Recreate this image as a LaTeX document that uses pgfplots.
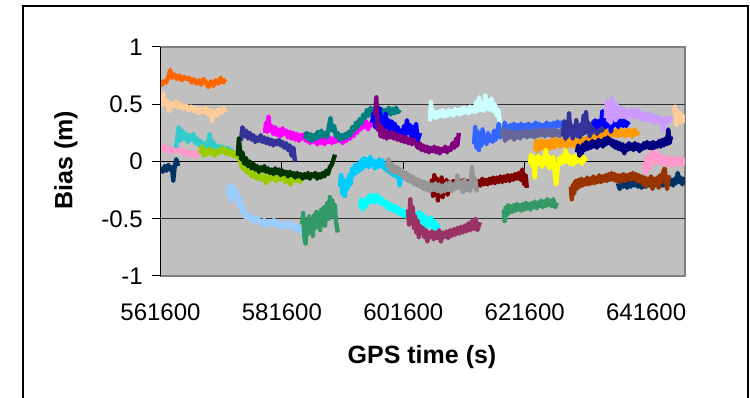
\documentclass[border=0pt]{standalone}
\usepackage{fontspec}
\setmainfont{Liberation Sans}
\usepackage{pgfplots}
\pgfplotsset{compat=1.18}
\definecolor{plotgray}{HTML}{C0C0C0}
\definecolor{axisgray}{HTML}{808080}
\definecolor{gridc}{HTML}{303030}
\definecolor{sOrange}{HTML}{FF6600}
\definecolor{sPeach}{HTML}{FFCC99}
\definecolor{sPink}{HTML}{FF99CC}
\definecolor{sNavyA}{HTML}{003366}
\definecolor{sTurq}{HTML}{33CCCC}
\definecolor{sYGreen}{HTML}{99CC00}
\definecolor{sLBlue}{HTML}{99CCFF}
\definecolor{sSea}{HTML}{339966}
\definecolor{sIndigo}{HTML}{333399}
\definecolor{sDGreen}{HTML}{003300}
\definecolor{sMagenta}{HTML}{FF00FF}
\definecolor{sTeal}{HTML}{008080}
\definecolor{sBlue}{HTML}{0000FF}
\definecolor{sPurple}{HTML}{800080}
\definecolor{sSky}{HTML}{00CCFF}
\definecolor{sCyan}{HTML}{00FFFF}
\definecolor{sGray}{HTML}{969696}
\definecolor{sPlum}{HTML}{993366}
\definecolor{sPaleCyan}{HTML}{CCFFFF}
\definecolor{sDRed}{HTML}{800000}
\definecolor{sRoyal}{HTML}{3366FF}
\definecolor{sSlate}{HTML}{666699}
\definecolor{sOrange2}{HTML}{FF9900}
\definecolor{sYellow}{HTML}{FFFF00}
\definecolor{sNavy}{HTML}{000080}
\definecolor{sLav}{HTML}{CC99FF}
\definecolor{sBrown}{HTML}{993300}
\begin{document}
\begin{tikzpicture}
\useasboundingbox (-160.5pt,-122pt) rectangle (589.5pt,276pt);
\draw[line width=2pt] (-137.5pt,-130pt) -- (-137.5pt,270pt) -- (587.5pt,270pt) -- (587.5pt,-130pt);
\begin{axis}[
  at={(0pt,0pt)}, anchor=south west,
  scale only axis, width=524.5pt, height=229pt,
  xmin=561600, xmax=648000, ymin=-1, ymax=1,
  scaled x ticks=false, scaled y ticks=false,
  xtick={561600,581600,601600,621600,641600},
  xticklabels={561600,581600,601600,621600,641600},
  ytick={-1,-0.5,0,0.5,1},
  yticklabels={-1,-0.5,0,0.5,1},
  tick style={draw=none},
  major tick length=0pt,
  tick label style={font=\fontsize{24}{28}\selectfont},
  xticklabel style={anchor=base, yshift=-44.7pt},
  yticklabel style={anchor=east, xshift=-14.2pt},
  axis line style={draw=axisgray, line width=1.2pt},
  axis background/.style={fill=plotgray},
  xlabel={GPS time (s)}, ylabel={Bias (m)},
  label style={font=\bfseries\fontsize{25}{30}\selectfont},
  xlabel style={at={(axis description cs:0.4986,-0.3537)}, anchor=center},
  ylabel style={at={(axis description cs:-0.1802,0.5066)}, anchor=center},
  every axis plot/.append style={line width=4.4pt, line join=round},
  no markers,
]
\draw[gridc, line width=1pt] (axis cs:561600,0.5) -- (axis cs:648000,0.5);
\draw[gridc, line width=1pt] (axis cs:561600,-0.5) -- (axis cs:648000,-0.5);
\draw[black, line width=1pt] (axis cs:561600,0) -- (axis cs:648000,0);
\draw[black, line width=1pt] (axis cs:581600,0) -- ++(0pt,-8pt);
\draw[black, line width=1pt] (axis cs:601600,0) -- ++(0pt,-8pt);
\draw[black, line width=1pt] (axis cs:621600,0) -- ++(0pt,-8pt);
\draw[black, line width=1pt] (axis cs:641600,0) -- ++(0pt,-8pt);
% pink 1
\addplot[draw=sPink] coordinates {(561700,0.10)(562100,0.14)(562500,0.09)(562900,0.12)(563300,0.08)(563700,0.11)(564100,0.09)(564500,0.13)(564900,0.08)(565300,0.10)(565700,0.06)(566100,0.09)(566500,0.05)(566900,0.08)(567300,0.04)(567700,0.08)(568100,0.06)};
% orange 1
\addplot[draw=sOrange] coordinates {(561700,0.66)(562100,0.70)(562500,0.69)(562900,0.74)(563200,0.80)(563500,0.73)(563900,0.76)(564300,0.72)(564700,0.75)(565100,0.71)(565500,0.74)(565900,0.72)(566300,0.73)(566700,0.69)(567100,0.72)(567500,0.68)(567900,0.71)(568300,0.67)(568700,0.72)(569100,0.69)(569500,0.65)(569900,0.70)(570300,0.66)(570700,0.71)(571100,0.68)(571500,0.73)(571900,0.69)(572300,0.72)};
% peach 1
\addplot[draw=sPeach] coordinates {(561700,0.47)(562000,0.60)(562300,0.50)(562700,0.53)(563000,0.44)(563400,0.51)(563800,0.48)(564200,0.52)(564600,0.47)(565000,0.50)(565400,0.46)(565800,0.49)(566200,0.45)(566600,0.48)(567000,0.44)(567400,0.47)(567800,0.42)(568200,0.46)(568600,0.43)(569000,0.47)(569400,0.41)(569800,0.45)(570100,0.35)(570400,0.44)(570800,0.40)(571200,0.46)(571600,0.42)(572000,0.47)(572300,0.43)};
% navy A
\addplot[draw=sNavyA] coordinates {(561700,-0.05)(562000,-0.09)(562300,-0.04)(562600,-0.08)(562900,-0.03)(563200,-0.07)(563500,-0.05)(563700,-0.17)(563900,-0.06)(564200,0.02)(564500,-0.04)};
% turquoise
\addplot[draw=sTurq] coordinates {(564150,0.12)(564400,0.22)(564600,0.30)(564900,0.18)(565200,0.27)(565500,0.20)(565800,0.24)(566100,0.17)(566400,0.23)(566700,0.19)(567000,0.24)(567300,0.16)(567600,0.20)(567900,0.14)(568200,0.18)(568500,0.13)(568800,0.16)(569100,0.12)(569400,0.15)(569700,0.24)(570000,0.13)(570300,0.17)(570700,0.11)(571100,0.14)(571500,0.10)(571900,0.13)(572300,0.09)(572700,0.12)(573100,0.09)(573500,0.11)};
% yellow-green
\addplot[draw=sYGreen] coordinates {(568100,0.07)(568400,0.13)(568700,0.05)(569000,0.10)(569300,0.06)(569600,0.11)(569900,0.07)(570200,0.10)(570500,0.05)(570800,0.09)(571100,0.07)(571400,0.11)(571700,0.08)(572000,0.12)(572300,0.07)(572600,0.10)(572900,0.06)(573200,0.09)(573500,0.05)(573800,0.08)(574100,0.04)(574400,0.06)(574700,0.00)(575000,-0.04)(575300,-0.07)(575600,-0.05)(575900,-0.10)(576200,-0.08)(576600,-0.13)(577000,-0.10)(577400,-0.15)(577800,-0.11)(578200,-0.16)(578600,-0.12)(579000,-0.19)(579400,-0.13)(579800,-0.16)(580200,-0.12)(580600,-0.17)(581000,-0.13)(581400,-0.16)(581800,-0.12)(582200,-0.18)(582600,-0.14)(583000,-0.20)(583400,-0.13)(583800,-0.17)(584200,-0.12)(584600,-0.18)(584900,-0.14)};
% light blue
\addplot[draw=sLBlue] coordinates {(572700,-0.30)(572900,-0.20)(573200,-0.34)(573500,-0.22)(573800,-0.30)(574100,-0.25)(574400,-0.38)(574700,-0.32)(575000,-0.44)(575300,-0.40)(575600,-0.49)(575900,-0.46)(576300,-0.51)(576700,-0.48)(577100,-0.53)(577500,-0.49)(577900,-0.52)(578300,-0.55)(578700,-0.51)(579100,-0.56)(579500,-0.52)(579900,-0.55)(580300,-0.51)(580700,-0.56)(581100,-0.53)(581500,-0.58)(581900,-0.54)(582300,-0.57)(582700,-0.53)(583100,-0.58)(583500,-0.55)(583900,-0.60)(584300,-0.56)(584700,-0.62)(585100,-0.58)};
% indigo 1
\addplot[draw=sIndigo] coordinates {(574850,0.18)(575100,0.30)(575400,0.22)(575700,0.27)(576000,0.20)(576300,0.25)(576600,0.19)(576900,0.23)(577200,0.17)(577500,0.21)(577800,0.18)(578100,0.23)(578400,0.17)(578700,0.21)(579000,0.16)(579300,0.20)(579600,0.15)(579900,0.19)(580200,0.14)(580500,0.18)(580800,0.15)(581100,0.19)(581400,0.14)(581700,0.17)(582000,0.12)(582300,0.16)(582600,0.10)(582900,0.14)(583200,0.05)(583500,0.12)(583750,0.00)};
% magenta
\addplot[draw=sMagenta] coordinates {(578800,0.25)(579000,0.34)(579200,0.26)(579400,0.39)(579600,0.27)(579900,0.31)(580200,0.24)(580500,0.30)(580800,0.23)(581100,0.28)(581400,0.22)(581700,0.29)(582000,0.24)(582300,0.27)(582600,0.21)(582900,0.26)(583200,0.20)(583500,0.25)(583800,0.19)(584100,0.24)(584400,0.18)(584700,0.23)(585000,0.20)(585300,0.24)(585600,0.18)(585900,0.22)(586200,0.16)(586500,0.21)(586800,0.17)(587100,0.20)(587400,0.15)(587700,0.19)(588000,0.16)(588300,0.21)(588600,0.15)(588900,0.19)(589200,0.17)(589500,0.21)(589800,0.16)(590100,0.20)(590400,0.17)(590700,0.22)(591000,0.18)(591300,0.21)(591600,0.16)(591900,0.21)(592200,0.18)(592500,0.22)(592800,0.20)(593100,0.26)(593400,0.22)(593700,0.29)(594000,0.25)(594300,0.33)(594600,0.28)(594900,0.36)(595200,0.30)(595500,0.35)(595800,0.28)(596100,0.33)(596450,0.30)};
% dark green
\addplot[draw=sDGreen] coordinates {(574350,0.05)(574500,0.20)(574700,0.10)(574900,0.02)(575100,0.08)(575400,-0.02)(575700,0.03)(576000,-0.04)(576300,0.00)(576600,-0.06)(576900,-0.02)(577200,-0.07)(577500,-0.04)(577800,-0.09)(578100,-0.05)(578400,-0.08)(578700,-0.04)(579000,-0.09)(579300,-0.06)(579600,-0.10)(579900,-0.07)(580200,-0.11)(580500,-0.06)(580800,-0.10)(581100,-0.07)(581400,-0.12)(581700,-0.08)(582000,-0.11)(582300,-0.09)(582600,-0.13)(582900,-0.09)(583200,-0.12)(583500,-0.10)(583800,-0.14)(584100,-0.10)(584400,-0.13)(584700,-0.11)(585000,-0.15)(585300,-0.11)(585600,-0.14)(585900,-0.10)(586200,-0.15)(586500,-0.11)(586800,-0.13)(587100,-0.10)(587400,-0.15)(587700,-0.11)(588000,-0.14)(588300,-0.10)(588600,-0.13)(588900,-0.08)(589200,-0.11)(589500,-0.05)(589800,-0.03)(590100,0.02)(590350,0.06)};
% sea green 1
\addplot[draw=sSea] coordinates {(584900,-0.55)(585100,-0.45)(585300,-0.66)(585500,-0.72)(585700,-0.52)(585900,-0.63)(586100,-0.48)(586300,-0.60)(586500,-0.50)(586700,-0.65)(586900,-0.47)(587100,-0.58)(587300,-0.44)(587500,-0.55)(587700,-0.46)(587900,-0.60)(588100,-0.42)(588300,-0.53)(588500,-0.40)(588700,-0.56)(588900,-0.43)(589100,-0.36)(589300,-0.50)(589500,-0.31)(589700,-0.45)(589900,-0.34)(590100,-0.48)(590300,-0.38)(590500,-0.52)(590800,-0.62)};
% teal
\addplot[draw=sTeal] coordinates {(585400,0.20)(585700,0.25)(586000,0.19)(586300,0.24)(586600,0.18)(586900,0.23)(587200,0.20)(587500,0.26)(587800,0.21)(588100,0.27)(588400,0.22)(588700,0.25)(589000,0.21)(589300,0.29)(589600,0.38)(589900,0.27)(590200,0.31)(590500,0.22)(590800,0.25)(591100,0.19)(591400,0.23)(591700,0.20)(592000,0.24)(592300,0.21)(592600,0.26)(592900,0.23)(593200,0.30)(593500,0.27)(593800,0.34)(594100,0.30)(594400,0.37)(594700,0.33)(595000,0.41)(595300,0.38)(595600,0.45)(595900,0.40)(596200,0.47)(596500,0.42)(596800,0.46)(597100,0.41)(597400,0.48)(597700,0.43)(598000,0.46)(598300,0.40)(598600,0.45)(598900,0.42)(599200,0.47)(599500,0.41)(599800,0.46)(600100,0.42)(600400,0.47)(600700,0.43)(601050,0.45)};
% sky blue
\addplot[draw=sSky] coordinates {(591150,-0.22)(591350,-0.12)(591550,-0.28)(591750,-0.16)(591950,-0.30)(592150,-0.18)(592400,-0.24)(592650,-0.12)(592900,-0.20)(593150,-0.06)(593400,-0.12)(593650,-0.03)(593900,-0.10)(594150,-0.02)(594400,-0.08)(594650,0.01)(594900,-0.06)(595150,0.03)(595400,-0.04)(595650,0.02)(595900,-0.05)(596150,0.04)(596400,-0.03)(596650,0.01)(596900,-0.06)(597150,0.00)(597400,-0.05)(597650,0.02)(597900,-0.04)(598150,0.01)(598400,-0.06)(598650,-0.02)(598900,-0.08)(599150,-0.03)(599400,-0.10)(599650,-0.05)(599900,-0.12)(600150,-0.07)(600400,-0.13)(600700,-0.08)(601000,-0.21)(601300,-0.10)(601850,-0.14)};
% cyan
\addplot[draw=sCyan] coordinates {(594450,-0.40)(594700,-0.33)(594950,-0.42)(595200,-0.35)(595450,-0.39)(595700,-0.31)(595950,-0.36)(596200,-0.29)(596450,-0.35)(596700,-0.30)(596950,-0.36)(597200,-0.29)(597450,-0.34)(597700,-0.31)(597950,-0.37)(598200,-0.33)(598450,-0.38)(598700,-0.35)(598950,-0.41)(599200,-0.37)(599450,-0.42)(599700,-0.38)(599950,-0.43)(600200,-0.39)(600450,-0.44)(600700,-0.40)(600950,-0.46)(601200,-0.42)(601450,-0.47)(601700,-0.43)(601950,-0.48)(602200,-0.44)(602450,-0.47)(602700,-0.43)(602950,-0.49)(603200,-0.45)(603450,-0.50)(603700,-0.46)(603950,-0.50)(604200,-0.44)(604450,-0.52)(604700,-0.46)(604950,-0.55)(605200,-0.48)(605450,-0.58)(605700,-0.50)(605950,-0.55)(606200,-0.49)(606450,-0.58)(606700,-0.52)(606950,-0.60)(607200,-0.55)(607450,-0.58)};
% blue 1
\addplot[draw=sBlue] coordinates {(596450,0.34)(596700,0.42)(596950,0.30)(597200,0.40)(597450,0.28)(597700,0.46)(597950,0.32)(598200,0.38)(598450,0.27)(598700,0.42)(598950,0.30)(599200,0.36)(599450,0.24)(599700,0.35)(599950,0.27)(600200,0.33)(600450,0.22)(600700,0.30)(600950,0.20)(601200,0.27)(601450,0.18)(601700,0.31)(601950,0.23)(602200,0.36)(602450,0.25)(602700,0.32)(602950,0.20)(603200,0.30)(603450,0.22)(603700,0.33)(603950,0.18)(604350,0.25)};
% purple
\addplot[draw=sPurple] coordinates {(596950,0.40)(597150,0.56)(597350,0.28)(597600,0.33)(597850,0.22)(598100,0.30)(598350,0.21)(598600,0.27)(598850,0.20)(599100,0.25)(599400,0.21)(599700,0.26)(600000,0.20)(600300,0.24)(600600,0.19)(600900,0.23)(601200,0.18)(601500,0.22)(601800,0.17)(602100,0.21)(602400,0.16)(602700,0.20)(603000,0.15)(603250,0.19)(603500,0.17)(604000,0.12)(604300,0.16)(604600,0.10)(604900,0.14)(605200,0.09)(605500,0.13)(605800,0.08)(606100,0.12)(606400,0.09)(606700,0.13)(607000,0.08)(607300,0.12)(607600,0.07)(607900,0.11)(608200,0.09)(608500,0.13)(608800,0.08)(609100,0.12)(609400,0.10)(609700,0.16)(610000,0.12)(610300,0.20)(610500,0.14)(610750,0.25)};
% dark red
\addplot[draw=sDRed] coordinates {(606300,-0.15)(606500,-0.30)(606700,-0.12)(606900,-0.26)(607100,-0.15)(607300,-0.34)(607500,-0.18)(607700,-0.28)(607900,-0.14)(608100,-0.31)(608300,-0.19)(608500,-0.25)(608700,-0.16)(608900,-0.29)(609200,-0.18)(609500,-0.24)(609800,-0.17)(610100,-0.22)(610400,-0.16)(610700,-0.21)(611000,-0.17)(611300,-0.22)(611600,-0.16)(611900,-0.21)(612200,-0.17)(612500,-0.22)(612800,-0.18)(613100,-0.21)(613400,-0.16)(613700,-0.22)(614000,-0.17)(614300,-0.21)(614600,-0.15)(614900,-0.20)(615200,-0.16)(615500,-0.20)(615800,-0.15)(616100,-0.19)(616400,-0.14)(616700,-0.19)(617000,-0.14)(617300,-0.18)(617600,-0.13)(617900,-0.18)(618200,-0.13)(618500,-0.17)(618800,-0.12)(619100,-0.17)(619400,-0.12)(619700,-0.16)(620000,-0.11)(620300,-0.15)(620600,-0.10)(620900,-0.16)(621200,-0.07)(621500,-0.20)(621750,-0.12)(621950,-0.23)};
% gray
\addplot[draw=sGray] coordinates {(598900,-0.05)(599150,0.02)(599400,-0.08)(599650,-0.02)(599900,-0.10)(600150,-0.04)(600400,-0.09)(600650,-0.05)(600900,-0.11)(601150,-0.07)(601400,-0.13)(601650,-0.09)(601900,-0.15)(602150,-0.10)(602400,-0.17)(602650,-0.12)(602900,-0.18)(603150,-0.13)(603400,-0.20)(603650,-0.15)(603900,-0.21)(604150,-0.16)(604400,-0.22)(604650,-0.17)(604900,-0.24)(605150,-0.18)(605400,-0.25)(605700,-0.19)(606000,-0.26)(606300,-0.20)(606600,-0.25)(606900,-0.19)(607200,-0.26)(607500,-0.20)(607800,-0.27)(608100,-0.21)(608400,-0.26)(608700,-0.19)(609000,-0.25)(609300,-0.18)(609600,-0.26)(609900,-0.20)(610200,-0.24)(610500,-0.12)(610800,-0.23)(611100,-0.18)(611400,-0.27)(611700,-0.16)(612000,-0.25)(612300,-0.19)(612600,-0.26)(612900,-0.05)(613200,-0.22)(613450,-0.15)(613700,-0.27)};
% plum
\addplot[draw=sPlum] coordinates {(602350,-0.42)(602550,-0.55)(602750,-0.33)(602950,-0.50)(603150,-0.40)(603350,-0.58)(603550,-0.48)(603750,-0.62)(603950,-0.52)(604150,-0.66)(604350,-0.56)(604550,-0.62)(604800,-0.58)(605050,-0.66)(605300,-0.60)(605550,-0.70)(605800,-0.62)(606050,-0.66)(606300,-0.61)(606600,-0.68)(606900,-0.62)(607200,-0.67)(607500,-0.60)(607800,-0.70)(608100,-0.62)(608400,-0.66)(608700,-0.61)(609000,-0.67)(609300,-0.60)(609600,-0.65)(609900,-0.59)(610200,-0.64)(610500,-0.58)(610800,-0.63)(611100,-0.57)(611400,-0.62)(611700,-0.56)(612000,-0.61)(612300,-0.54)(612600,-0.60)(612900,-0.52)(613200,-0.59)(613500,-0.50)(613800,-0.60)(614200,-0.53)};
% pale cyan
\addplot[draw=sPaleCyan] coordinates {(606000,0.35)(606150,0.52)(606350,0.40)(606600,0.44)(606850,0.38)(607100,0.43)(607350,0.39)(607600,0.44)(607850,0.40)(608100,0.45)(608350,0.39)(608600,0.43)(608850,0.40)(609100,0.45)(609350,0.41)(609600,0.44)(609850,0.40)(610100,0.46)(610350,0.42)(610600,0.45)(610850,0.41)(611100,0.46)(611350,0.42)(611600,0.47)(611850,0.43)(612100,0.46)(612350,0.42)(612600,0.48)(612850,0.44)(613100,0.47)(613350,0.43)(613600,0.52)(613850,0.44)(614100,0.56)(614350,0.45)(614600,0.50)(614850,0.44)(615100,0.58)(615350,0.46)(615600,0.53)(615850,0.45)(616100,0.55)(616400,0.44)(616700,0.50)(617000,0.40)(617250,0.45)(617500,0.33)};
% royal blue
\addplot[draw=sRoyal] coordinates {(613250,0.15)(613450,0.30)(613650,0.12)(613850,0.26)(614050,0.10)(614250,0.24)(614450,0.14)(614650,0.28)(614850,0.17)(615050,0.22)(615300,0.15)(615550,0.25)(615800,0.18)(616050,0.22)(616300,0.17)(616550,0.27)(616800,0.19)(617050,0.24)(617300,0.33)(617550,0.21)(617800,0.26)(618050,0.22)(618300,0.34)(618550,0.27)(618800,0.31)(619050,0.26)(619300,0.32)(619550,0.27)(619800,0.33)(620100,0.28)(620400,0.32)(620700,0.27)(621000,0.33)(621300,0.28)(621600,0.32)(621900,0.27)(622200,0.33)(622500,0.28)(622800,0.32)(623100,0.29)(623400,0.34)(623700,0.29)(624000,0.33)(624300,0.28)(624600,0.32)(624900,0.29)(625200,0.34)(625500,0.30)(625800,0.33)(626100,0.29)(626400,0.34)(626700,0.30)(627000,0.35)(627300,0.31)(627600,0.34)(627900,0.30)(628200,0.33)};
% slate
\addplot[draw=sSlate] coordinates {(617850,0.22)(618100,0.28)(618350,0.18)(618600,0.26)(618850,0.20)(619100,0.27)(619350,0.21)(619600,0.25)(619850,0.19)(620100,0.26)(620350,0.21)(620600,0.25)(620850,0.20)(621100,0.27)(621350,0.22)(621650,0.26)(621950,0.21)(622250,0.27)(622550,0.22)(622850,0.26)(623150,0.21)(623450,0.27)(623750,0.22)(624050,0.28)(624350,0.23)(624650,0.27)(624950,0.22)(625250,0.28)(625550,0.23)(625850,0.27)(626150,0.22)(626450,0.28)(626750,0.23)(627050,0.27)(627350,0.22)(627650,0.28)(627950,0.23)(628250,0.27)(628550,0.24)};
% sea green 2
\addplot[draw=sSea] coordinates {(618150,-0.42)(618300,-0.52)(618450,-0.40)(618650,-0.47)(618850,-0.38)(619050,-0.45)(619300,-0.39)(619550,-0.44)(619800,-0.38)(620050,-0.43)(620300,-0.37)(620550,-0.42)(620800,-0.38)(621050,-0.43)(621300,-0.37)(621550,-0.42)(621800,-0.36)(622050,-0.41)(622300,-0.37)(622550,-0.42)(622800,-0.36)(623050,-0.40)(623300,-0.35)(623550,-0.41)(623800,-0.36)(624050,-0.39)(624300,-0.34)(624550,-0.40)(624800,-0.35)(625050,-0.39)(625300,-0.33)(625550,-0.38)(625800,-0.34)(626050,-0.39)(626300,-0.33)(626600,-0.40)(626900,-0.36)};
% orange 2
\addplot[draw=sOrange2] coordinates {(623300,0.10)(623500,0.18)(623700,0.09)(623900,0.17)(624100,0.11)(624300,0.19)(624500,0.12)(624700,0.16)(624900,0.10)(625100,0.18)(625300,0.13)(625500,0.17)(625700,0.11)(625900,0.19)(626100,0.13)(626300,0.17)(626500,0.12)(626700,0.20)(626900,0.14)(627100,0.18)(627400,0.13)(627700,0.19)(628000,0.14)(628300,0.18)(628600,0.13)(628900,0.19)(629200,0.14)(629500,0.18)(629800,0.13)(630100,0.19)(630400,0.15)(630700,0.18)(631000,0.14)(631300,0.20)(631600,0.15)(631900,0.21)(632200,0.17)(632500,0.22)(632800,0.17)(633100,0.23)(633400,0.20)(633700,0.26)(634000,0.21)(634300,0.27)(634600,0.22)(634900,0.28)(635200,0.23)(635500,0.27)(635800,0.22)(636100,0.28)(636400,0.23)(636700,0.27)(637000,0.22)(637300,0.28)(637600,0.23)(637900,0.27)(638200,0.22)(638500,0.28)(638800,0.23)(639100,0.27)(639400,0.22)(639700,0.28)(640050,0.24)(640400,0.26)};
% yellow
\addplot[draw=sYellow] coordinates {(622450,-0.02)(622650,0.06)(622850,-0.04)(623050,0.04)(623250,-0.14)(623450,0.02)(623650,-0.03)(623850,0.05)(624050,-0.02)(624250,0.03)(624450,-0.05)(624650,0.04)(624850,-0.01)(625050,0.10)(625250,-0.03)(625450,0.05)(625650,-0.06)(625850,0.03)(626050,-0.02)(626300,0.04)(626550,-0.10)(626800,-0.20)(627050,-0.04)(627300,0.03)(627550,-0.02)(627800,0.05)(628050,-0.01)(628300,0.10)(628550,0.00)(628800,0.06)(629050,-0.02)(629300,0.04)(629550,-0.03)(629800,0.05)(630050,-0.01)(630300,0.06)(630550,0.00)(630800,0.05)(631050,-0.02)(631300,0.04)(631700,0.00)};
% indigo 2
\addplot[draw=sIndigo] coordinates {(627900,0.22)(628100,0.35)(628300,0.20)(628500,0.30)(628700,0.22)(628900,0.42)(629100,0.24)(629300,0.32)(629500,0.20)(629700,0.30)(629900,0.23)(630100,0.36)(630300,0.22)(630500,0.29)(630700,0.21)(630900,0.33)(631100,0.24)(631300,0.40)(631500,0.25)(631700,0.43)(631900,0.27)(632100,0.34)(632300,0.22)(632500,0.31)(632700,0.25)(632900,0.35)(633100,0.27)(633300,0.32)(633500,0.24)(633700,0.30)(633900,0.26)(634100,0.33)(634350,0.27)(634650,0.31)};
% navy
\addplot[draw=sNavy] coordinates {(630200,0.08)(630400,0.14)(630600,0.05)(630800,0.12)(631000,0.07)(631250,0.15)(631500,0.10)(631750,0.17)(632000,0.11)(632250,0.16)(632500,0.12)(632750,0.18)(633000,0.13)(633250,0.17)(633500,0.12)(633750,0.19)(634000,0.14)(634250,0.18)(634500,0.13)(634750,0.20)(635000,0.15)(635250,0.21)(635500,0.16)(635750,0.19)(636000,0.14)(636250,0.18)(636500,0.12)(636750,0.17)(637000,0.11)(637250,0.16)(637500,0.10)(637750,0.15)(638000,0.07)(638250,0.14)(638500,0.10)(638750,0.16)(639000,0.11)(639250,0.15)(639500,0.10)(639750,0.16)(640000,0.11)(640250,0.15)(640500,0.09)(640750,0.14)(641000,0.11)(641250,0.16)(641500,0.12)(641750,0.17)(642000,0.12)(642250,0.16)(642500,0.11)(642750,0.17)(643000,0.12)(643250,0.16)(643500,0.13)(643750,0.18)(644000,0.13)(644250,0.19)(644500,0.14)(644750,0.20)(645000,0.15)(645250,0.28)(645450,0.16)(645700,0.22)};
% blue 2
\addplot[draw=sBlue] coordinates {(633000,0.31)(633200,0.36)(633400,0.30)(633600,0.35)(633800,0.31)(634000,0.36)(634200,0.33)(634400,0.44)(634600,0.32)(634800,0.38)(635000,0.30)(635200,0.42)(635400,0.33)(635600,0.37)(635800,0.26)(636000,0.35)(636200,0.31)(636400,0.38)(636600,0.32)(636800,0.36)(637000,0.30)(637200,0.37)(637400,0.32)(637600,0.35)(637800,0.31)(638000,0.36)(638300,0.31)(638500,0.34)(638750,0.32)};
% lavender
\addplot[draw=sLav] coordinates {(634950,0.38)(635150,0.52)(635350,0.36)(635550,0.46)(635750,0.34)(635950,0.55)(636150,0.38)(636350,0.48)(636550,0.36)(636750,0.50)(636950,0.38)(637150,0.45)(637350,0.39)(637600,0.47)(637850,0.40)(638100,0.45)(638350,0.38)(638600,0.44)(638850,0.39)(639100,0.46)(639350,0.40)(639600,0.44)(639850,0.38)(640100,0.45)(640350,0.39)(640600,0.43)(640850,0.37)(641100,0.42)(641350,0.36)(641600,0.41)(641850,0.36)(642100,0.42)(642350,0.35)(642600,0.40)(642850,0.34)(643100,0.40)(643350,0.35)(643600,0.39)(643850,0.34)(644100,0.38)(644350,0.27)(644600,0.37)(644850,0.33)(645100,0.38)(645400,0.35)(645700,0.39)};
% navy A second
\addplot[draw=sNavyA] coordinates {(636950,-0.19)(637250,-0.24)(637550,-0.18)(637850,-0.22)(638150,-0.17)(638450,-0.23)(638750,-0.18)(639050,-0.22)(639350,-0.17)(639650,-0.21)(639950,-0.16)(640250,-0.22)(640550,-0.17)(640850,-0.23)(641150,-0.18)(641450,-0.22)(641750,-0.17)(642050,-0.21)(642350,-0.16)(642650,-0.22)(642950,-0.17)(643250,-0.21)(643550,-0.16)(643850,-0.22)(644150,-0.17)(644450,-0.21)(644750,-0.16)(645050,-0.20)(645300,-0.15)(645550,-0.20)(645800,-0.16)(646050,-0.21)(646300,-0.15)(646550,-0.19)(646800,-0.10)(647050,-0.18)(647300,-0.14)(647550,-0.20)(647800,-0.15)(648000,-0.18)};
% brown
\addplot[draw=sBrown] coordinates {(629200,-0.22)(629350,-0.33)(629550,-0.20)(629750,-0.28)(629950,-0.17)(630150,-0.24)(630400,-0.16)(630650,-0.22)(630900,-0.15)(631150,-0.21)(631400,-0.16)(631650,-0.20)(631900,-0.14)(632150,-0.20)(632400,-0.15)(632650,-0.19)(632900,-0.13)(633150,-0.19)(633400,-0.14)(633650,-0.18)(633900,-0.12)(634150,-0.18)(634400,-0.13)(634650,-0.17)(634900,-0.12)(635150,-0.17)(635400,-0.11)(635650,-0.16)(635900,-0.10)(636150,-0.16)(636400,-0.11)(636650,-0.17)(636900,-0.12)(637150,-0.18)(637400,-0.12)(637650,-0.17)(637900,-0.11)(638150,-0.17)(638400,-0.12)(638650,-0.16)(638900,-0.11)(639150,-0.16)(639400,-0.10)(639650,-0.15)(639900,-0.11)(640150,-0.17)(640400,-0.12)(640650,-0.18)(640900,-0.13)(641150,-0.20)(641400,-0.14)(641650,-0.22)(641900,-0.15)(642150,-0.19)(642400,-0.13)(642650,-0.24)(642900,-0.15)(643150,-0.20)(643400,-0.14)(643650,-0.23)(643900,-0.12)(644150,-0.18)(644400,-0.10)(644650,-0.06)(644850,-0.15)(645050,-0.24)(645350,-0.12)};
% pink 2
\addplot[draw=sPink] coordinates {(641250,-0.02)(641450,-0.10)(641650,0.04)(641850,-0.08)(642050,0.02)(642250,-0.06)(642450,0.08)(642650,-0.02)(642850,0.05)(643050,-0.01)(643250,0.09)(643450,0.00)(643650,0.06)(643850,-0.02)(644050,0.05)(644250,-0.01)(644450,0.04)(644650,-0.03)(644850,0.03)(645050,-0.02)(645250,0.04)(645450,-0.03)(645650,0.02)(645850,-0.04)(646050,0.03)(646250,-0.02)(646450,0.02)(646650,-0.03)(646850,0.03)(647050,-0.02)(647250,0.01)(647450,-0.03)(647650,0.02)(647850,-0.02)(648000,0.00)};
% peach 2
\addplot[draw=sPeach] coordinates {(646150,0.42)(646350,0.48)(646550,0.32)(646750,0.44)(646950,0.36)(647150,0.42)(647350,0.34)(647550,0.40)(647750,0.35)(647950,0.41)};
\end{axis}
\draw[black, line width=1.2pt] (0pt,0pt) -- (0pt,229pt);
\foreach \yy in {0,57.25,114.5,171.75,229} \draw[black, line width=1pt] (-8pt,\yy pt) -- (0pt,\yy pt);
\end{tikzpicture}
\end{document}
